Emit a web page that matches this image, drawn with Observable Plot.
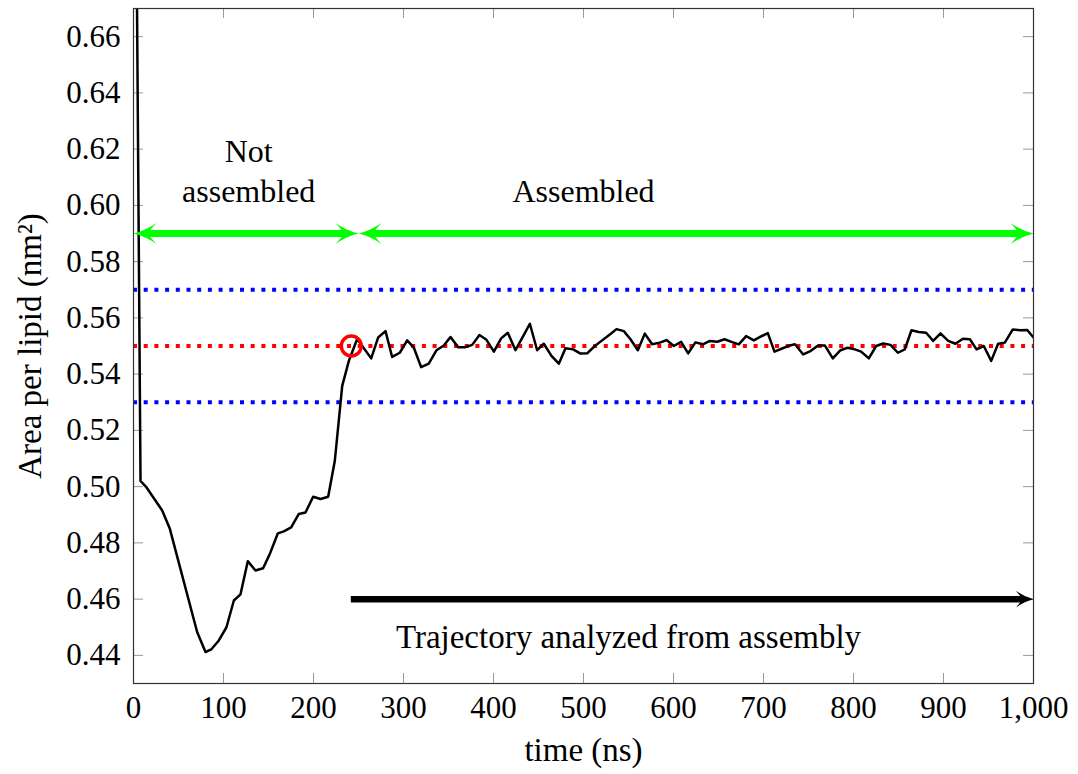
<!DOCTYPE html>
<html>
<head>
<meta charset="utf-8">
<script src="https://cdn.jsdelivr.net/npm/d3@7"></script>
<script src="https://cdn.jsdelivr.net/npm/@observablehq/plot@0.6"></script>
<style>
  html, body { margin: 0; padding: 0; background: #fff; }
</style>
</head>
<body>
<div id="chart"></div>
<script>
// Area per lipid over the simulation (time in ns, area in nm²)
const time = [
  0, 7.8, 14.5, 31.9, 40.4, 70.7, 80, 86.3, 94.8, 103.3, 111.5, 118.9, 127, 135.5, 144,
  151.5, 160.4, 167, 175.2, 183.7, 191.1, 199.6, 207.8, 216.3, 223.7, 231.9, 239.3, 248.5,
  264.1, 271.8, 280, 287.4, 295.9, 304.1, 311.5, 319.6, 328.1, 336.7, 344.8, 352.2, 360.7,
  368.9, 376.3, 384.4, 392.2, 400.4, 408.5, 415.9, 424.4, 433, 440.4, 448.5, 455.9, 464.4,
  472.6, 480, 488.5, 496.7, 504.1, 512.6, 520.7, 529.3, 536.7, 544.8, 552.2, 560.4, 568.1,
  576.3, 584.8, 592.2, 600.4, 608.5, 616.3, 624.4, 632.6, 640.4, 648.5, 656.7, 665.2, 672.6,
  680.7, 689.3, 696.7, 704.8, 712.2, 720.7, 729.3, 735, 744.1, 752.2, 760.7, 768.1, 777,
  785.6, 793.7, 801.5, 808.5, 817, 825.2, 833, 841.1, 849.3, 857, 864.4, 872.6, 880.7, 888.5,
  896.7, 905.2, 913.3, 921.5, 929.3, 936.7, 944.8, 953, 960.7, 968.1, 977, 984.8, 993, 1000
];
const area = [
  0.84, 0.502, 0.4997, 0.4915, 0.485, 0.4483, 0.4412, 0.4421, 0.4453, 0.450, 0.4595, 0.4617,
  0.4735, 0.4702, 0.471, 0.4761, 0.4834, 0.4841, 0.4855, 0.4903, 0.4908, 0.4964, 0.4956,
  0.4964, 0.5092, 0.5358, 0.5447, 0.5525,
  0.5456, 0.553, 0.5553, 0.5461, 0.5476, 0.552, 0.5494, 0.5425, 0.5437, 0.5485, 0.5502,
  0.5532, 0.5496, 0.5496, 0.5504, 0.5539, 0.5522, 0.548, 0.5527, 0.5547, 0.5485, 0.5535,
  0.5579, 0.5485, 0.5508, 0.5465, 0.5437, 0.5492, 0.5488, 0.5473, 0.5474, 0.55, 0.552,
  0.5541, 0.556, 0.5553, 0.5524, 0.5485, 0.5544, 0.5506, 0.5512, 0.5521, 0.55, 0.5515,
  0.5474, 0.5513, 0.5506, 0.5518, 0.5515, 0.5524, 0.5514, 0.5506, 0.5535, 0.552, 0.5533,
  0.5546, 0.548, 0.5491, 0.5502, 0.5506, 0.547, 0.5482, 0.5502, 0.5502, 0.5456, 0.5485,
  0.5494, 0.5488, 0.548, 0.5456, 0.55, 0.5509, 0.5504, 0.5476, 0.5488, 0.5556, 0.555,
  0.5547, 0.5518, 0.5545, 0.5518, 0.5508, 0.5526, 0.5524, 0.5488, 0.55, 0.5447, 0.5508,
  0.5512, 0.5559, 0.5556, 0.5557, 0.553
];

// Reference area and the tolerance band around it
const referenceArea = [0.55];
const toleranceBand = [0.53, 0.57];

// Moment the membrane is considered assembled
const assemblyPoint = [{time: 242, area: 0.55}];

// Phases of the run, shown as double arrows with a label above each
const phaseArrowArea = 0.59;
const phases = [
  {start: 0, end: 250, label: "Not\nassembled", labelTime: 128, labelArea: 0.6128},
  {start: 250, end: 1000, label: "Assembled", labelTime: 500, labelArea: 0.6058}
];

// Range used for the analysis
const analysis = [{start: 242, end: 1000, area: 0.46, label: "Trajectory analyzed from assembly", labelTime: 550, labelArea: 0.4464}];

// Axis ticks
const xTicks = [0, 100, 200, 300, 400, 500, 600, 700, 800, 900, 1000];
const yTicks = [0.44, 0.46, 0.48, 0.50, 0.52, 0.54, 0.56, 0.58, 0.60, 0.62, 0.64, 0.66];

const xLabel = "time (ns)";
const yLabel = "Area per lipid (nm²)";

const W = 1078, H = 774;
const margin = {left: 133, right: 45, top: 8, bottom: 91};
const innerW = W - margin.left - margin.right;
const innerH = H - margin.top - margin.bottom;
const tickLen = 10;

// Filled "stealth" arrowhead with its tip at the symbol origin; dir = 1 points right, -1 left
function stealth(L, Wd, dir) {
  return {
    draw(ctx) {
      const s = dir;
      ctx.moveTo(0, 0);
      ctx.quadraticCurveTo(-s * 0.55 * L, -0.3 * Wd, -s * L, -Wd);
      ctx.quadraticCurveTo(-s * 0.72 * L, -0.35 * Wd, -s * 0.63 * L, 0);
      ctx.quadraticCurveTo(-s * 0.72 * L, 0.35 * Wd, -s * L, Wd);
      ctx.quadraticCurveTo(-s * 0.55 * L, 0.3 * Wd, 0, 0);
      ctx.closePath();
    }
  };
}

const font = "Liberation Serif, Times New Roman, serif";
const tickColor = "#9a9a9a";
const dotted = "4,6.7";

const chart = Plot.plot({
  width: W,
  height: H,
  marginLeft: margin.left,
  marginRight: margin.right,
  marginTop: margin.top,
  marginBottom: margin.bottom,
  style: {fontFamily: font, fontSize: "31px", background: "#fff", color: "#000"},
  x: {domain: [0, 1000]},
  y: {domain: [0.43, 0.67]},
  marks: [
    // inward ticks on all four sides
    Plot.ruleX(xTicks, {stroke: tickColor, strokeWidth: 1, insetTop: innerH - tickLen}),
    Plot.ruleX(xTicks, {stroke: tickColor, strokeWidth: 1, insetBottom: innerH - tickLen}),
    Plot.ruleY(yTicks, {stroke: tickColor, strokeWidth: 1, insetRight: innerW - tickLen}),
    Plot.ruleY(yTicks, {stroke: tickColor, strokeWidth: 1, insetLeft: innerW - tickLen}),

    // tick labels
    Plot.axisX({ticks: xTicks, tickFormat: d3.format(","), tickSize: 0, tickPadding: 12, fontSize: 31, fontFamily: font, fontVariant: "normal", label: null}),
    Plot.axisY({ticks: yTicks, tickFormat: d3.format(".2f"), tickSize: 0, tickPadding: 13, fontSize: 31, fontFamily: font, fontVariant: "normal", label: null}),

    // reference lines
    Plot.ruleY(toleranceBand, {stroke: "#0000ff", strokeWidth: 4, strokeDasharray: dotted}),
    Plot.ruleY(referenceArea, {stroke: "#ff0000", strokeWidth: 4, strokeDasharray: dotted}),

    // area per lipid
    Plot.line(area, {x: time, y: area, stroke: "#000", strokeWidth: 2.5, strokeLinejoin: "round", clip: true}),

    // assembly point
    Plot.dot(assemblyPoint, {x: "time", y: "area", r: 10, stroke: "#ff0000", strokeWidth: 3.4, fill: "none"}),

    // phase arrows
    Plot.ruleY(phases, {y: () => phaseArrowArea, x1: "start", x2: "end", stroke: "#00ff00", strokeWidth: 7, insetLeft: 12, insetRight: 12}),
    Plot.dot(phases, {x: "start", y: () => phaseArrowArea, symbol: stealth(23, 10.5, -1), fill: "#00ff00", stroke: "none"}),
    Plot.dot(phases, {x: "end", y: () => phaseArrowArea, symbol: stealth(23, 10.5, 1), fill: "#00ff00", stroke: "none"}),
    Plot.text(phases, {x: "labelTime", y: "labelArea", text: "label", fontSize: 32, fontFamily: font, lineHeight: 1.25, fill: "#000"}),

    // analysis arrow
    Plot.ruleY(analysis, {y: "area", x1: "start", x2: "end", stroke: "#000", strokeWidth: 6.5, insetRight: 9}),
    Plot.dot(analysis, {x: "end", y: "area", symbol: stealth(18, 8.7, 1), fill: "#000", stroke: "none"}),
    Plot.text(analysis, {x: "labelTime", y: "labelArea", text: "label", fontSize: 33, fontFamily: font, fill: "#000"}),

    // axis titles
    Plot.text([xLabel], {text: d => d, frameAnchor: "bottom", lineAnchor: "middle", textAnchor: "middle", dy: 67, fontSize: 33, fontFamily: font, fill: "#000"}),
    Plot.text([yLabel], {text: d => d, frameAnchor: "left", textAnchor: "middle", lineAnchor: "middle", dx: -103, rotate: -90, fontSize: 33, fontFamily: font, fill: "#000"}),

    Plot.frame({stroke: "#333", strokeWidth: 1.2})
  ]
});

document.getElementById("chart").appendChild(chart);
</script>
</body>
</html>
